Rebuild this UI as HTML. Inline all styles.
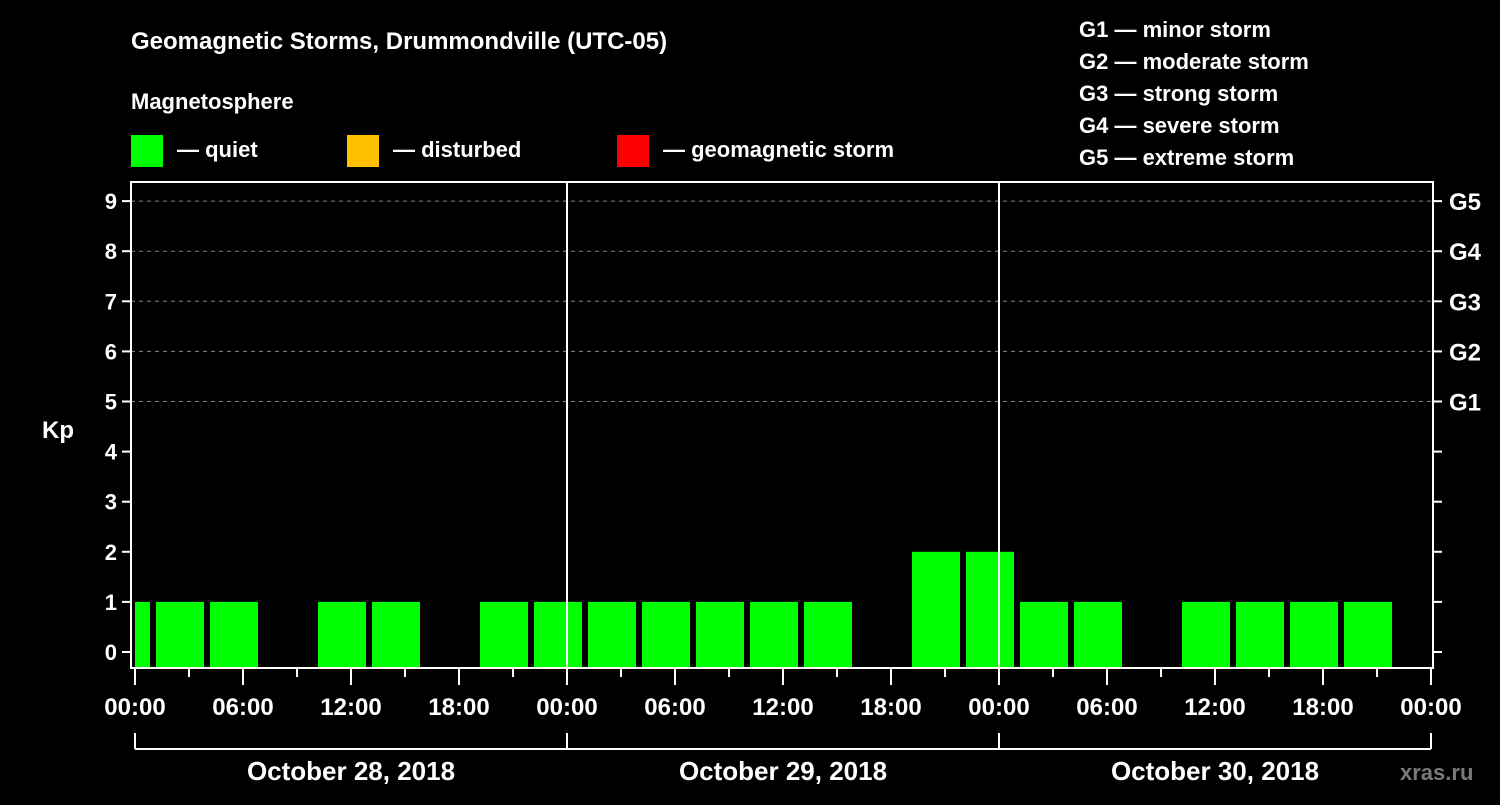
<!DOCTYPE html>
<html><head><meta charset="utf-8"><style>
body{margin:0;background:#000;width:1500px;height:800px;overflow:hidden}
svg text{font-family:"Liberation Sans",sans-serif;font-weight:bold;fill:#fff}
</style></head><body>
<svg width="1500" height="800">
<rect width="1500" height="800" fill="#000"/>
<text x="131" y="49" font-size="24">Geomagnetic Storms, Drummondville (UTC-05)</text>
<text x="131" y="109" font-size="22">Magnetosphere</text>
<g><rect x="131" y="135" width="32" height="32" fill="#00ff00"/><text x="177" y="157" font-size="22">— quiet</text></g>
<g><rect x="347" y="135" width="32" height="32" fill="#ffc000"/><text x="393" y="157" font-size="22">— disturbed</text></g>
<g><rect x="617" y="135" width="32" height="32" fill="#ff0000"/><text x="663" y="157" font-size="22">— geomagnetic storm</text></g>
<g font-size="22">
<text x="1079" y="37">G1 — minor storm</text><text x="1079" y="69">G2 — moderate storm</text><text x="1079" y="101">G3 — strong storm</text><text x="1079" y="133">G4 — severe storm</text><text x="1079" y="165">G5 — extreme storm</text></g>
<text x="42" y="438" font-size="24">Kp</text>
<text x="1400" y="780" font-size="22" fill="#888" style="fill:#7a7a7a">xras.ru</text>
<g id="grid"></g><g id="bars"></g><g id="axes"></g>
</svg>
<script>
const kpValues=[1,1,1,0,1,1,0,1,1, 1,1,1,1,1,0,2,2, 1,1,0,1,1,1,1,0];
const binStartHours=[-2,1,4,7,10,13,16,19,22,25,28,31,34,37,40,43,46,49,52,55,58,61,64,67,70];
const dayLabels=["October 28, 2018","October 29, 2018","October 30, 2018"];
const timeLabels=["00:00","06:00","12:00","18:00"];
const gLabels=["G1","G2","G3","G4","G5"];
const NS="http://www.w3.org/2000/svg";
const L=131,R=1433,T=182,B=668,X0=135,PXH=18;
const xS=h=>X0+h*PXH, yS=v=>652-v*50.1;
function mk(tag,at,parent,txt){const e=document.createElementNS(NS,tag);for(const k in at)e.setAttribute(k,at[k]);if(txt!=null)e.textContent=txt;document.getElementById(parent).appendChild(e);return e;}
for(let v=5;v<=9;v++){const e=mk('line',{x1:L,x2:R,y1:yS(v),y2:yS(v),stroke:'#888','stroke-dasharray':'4,4','stroke-width':1},'grid');

}
kpValues.forEach((v,i)=>{if(v<=0)return;let x1=Math.max(xS(binStartHours[i])+3,L+4),x2=Math.min(xS(binStartHours[i]+3)-3,R);if(x2<=x1)return;
const c=v>=5?'#ff0000':(v>=4?'#ffc000':'#00ff00');
const e=mk('rect',{x:x1,y:yS(v),width:x2-x1,height:B-yS(v),fill:c},'bars');

});
const f=mk('rect',{x:L,y:T,width:R-L,height:B-T,fill:'none',stroke:'#fff','stroke-width':2},'axes');


[1,2].forEach(d=>{const e=mk('line',{x1:xS(24*d),x2:xS(24*d),y1:T,y2:B,stroke:'#fff','stroke-width':2},'axes');

});
for(let v=0;v<=9;v++){mk('line',{x1:L-9,x2:L,y1:yS(v),y2:yS(v),stroke:'#fff','stroke-width':2},'axes');
mk('line',{x1:R,x2:R+9,y1:yS(v),y2:yS(v),stroke:'#fff','stroke-width':2},'axes');
const t=mk('text',{x:L-14,y:yS(v)+8,'font-size':22,'text-anchor':'end'},'axes',String(v));

}
gLabels.forEach((g,i)=>{const t=mk('text',{x:1449,y:yS(5+i)+9,'font-size':24},'axes',g);

});
for(let h=0;h<=72;h+=3){const maj=h%6===0;mk('line',{x1:xS(h),x2:xS(h),y1:B,y2:B+(maj?17:9),stroke:'#fff','stroke-width':2},'axes');
if(maj){const t=mk('text',{x:xS(h),y:715,'font-size':24,'text-anchor':'middle'},'axes',timeLabels[(h/6)%4]);

}}
mk('line',{x1:xS(0),x2:xS(72),y1:749,y2:749,stroke:'#fff','stroke-width':2},'axes');
for(let d=0;d<=3;d++)mk('line',{x1:xS(24*d),x2:xS(24*d),y1:733,y2:749,stroke:'#fff','stroke-width':2},'axes');
dayLabels.forEach((s,d)=>{const t=mk('text',{x:xS(24*d+12),y:780,'font-size':26,'text-anchor':'middle'},'axes',s);

});
</script>
</body></html>
